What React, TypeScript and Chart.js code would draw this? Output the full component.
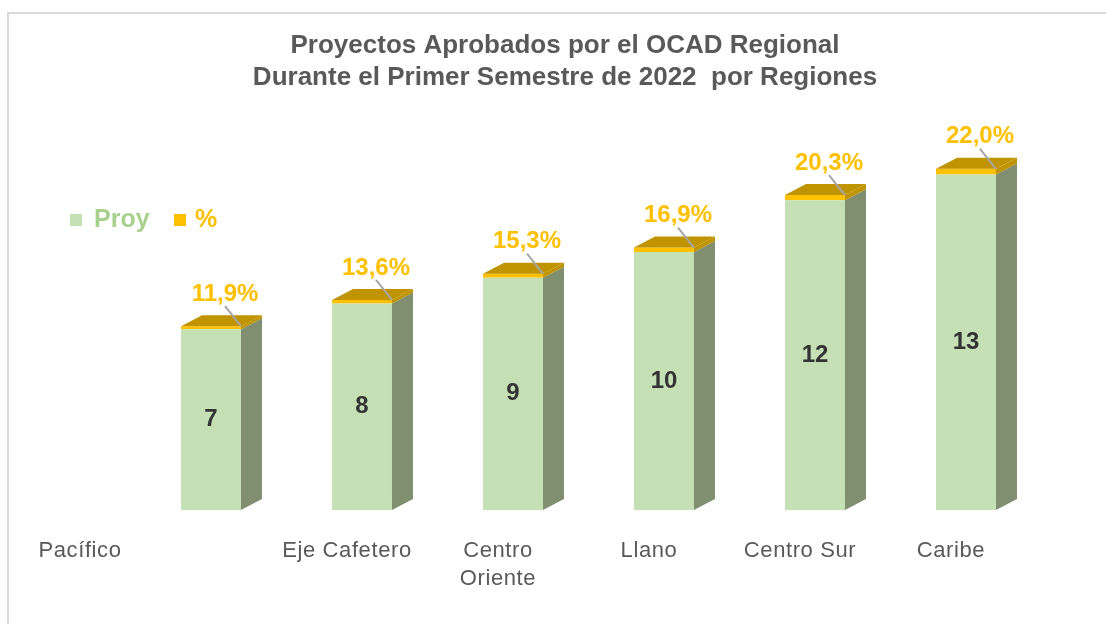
import React, { useEffect, useRef } from "react";
import { Chart, registerables } from "chart.js";

Chart.register(...registerables);

const titleLines = [
  "Proyectos Aprobados por el OCAD Regional",
  "Durante el Primer Semestre de 2022  por Regiones",
];
const categories: string[][] = [
  ["Pacífico"],
  ["Eje Cafetero"],
  ["Centro", "Oriente"],
  ["Llano"],
  ["Centro Sur"],
  ["Caribe"],
];
const proyectos = [7, 8, 9, 10, 12, 13];
const porcentajes = [11.9, 13.6, 15.3, 16.9, 20.3, 22.0];
const seriesNames = ["Proy", "%"];

const FRONT = "#C5E0B4";
const SIDE = "#7F8F6F";
const STRIP = "#FFC000";
const CAP = "#C09300";
const FONT = "'Liberation Sans', Arial, sans-serif";

const fmtPct = (v: number) => v.toFixed(1).replace(".", ",") + "%";

const DX = 21;
const DY = 11;

function poly(ctx: CanvasRenderingContext2D, pts: number[][], color: string) {
  ctx.beginPath();
  ctx.moveTo(pts[0][0], pts[0][1]);
  for (let i = 1; i < pts.length; i++) ctx.lineTo(pts[i][0], pts[i][1]);
  ctx.closePath();
  ctx.fillStyle = color;
  ctx.fill();
}

const threeD = {
  id: "threeD",
  afterDatasetsDraw(chart: any) {
    const ctx: CanvasRenderingContext2D = chart.ctx;
    const m0 = chart.getDatasetMeta(0);
    const m1 = chart.getDatasetMeta(1);
    ctx.save();
    m0.data.forEach((bar: any, i: number) => {
      const strip = m1.data[i];
      const L = bar.x - bar.width / 2;
      const R = bar.x + bar.width / 2;
      const B = bar.base;
      const G = bar.y;
      const T = strip.y;
      poly(ctx, [[R, G], [R + DX, G - DY], [R + DX, B - DY], [R, B]], SIDE);
      poly(ctx, [[R, T], [R + DX, T - DY], [R + DX, G - DY], [R, G]], CAP);
      poly(ctx, [[L, T], [L + DX, T - DY], [R + DX, T - DY], [R, T]], CAP);

      ctx.fillStyle = "#333333";
      ctx.font = `bold 24px ${FONT}`;
      ctx.textAlign = "center";
      ctx.textBaseline = "middle";
      ctx.fillText(String(proyectos[i]), bar.x, (B + G) / 2);

      const lx = bar.x + 14;
      const ly = T - 32;
      ctx.strokeStyle = "#A6A6A6";
      ctx.lineWidth = 2;
      ctx.beginPath();
      ctx.moveTo(lx, ly + 12);
      ctx.lineTo(R, T);
      ctx.stroke();
      ctx.fillStyle = STRIP;
      ctx.font = `bold 24px ${FONT}`;
      ctx.fillText(fmtPct(porcentajes[i]), lx, ly);
    });
    ctx.restore();
  },
  afterDraw(chart: any) {
    const ctx: CanvasRenderingContext2D = chart.ctx;
    const m0 = chart.getDatasetMeta(0);
    ctx.save();
    ctx.fillStyle = "#595959";
    ctx.font = `bold 26px ${FONT}`;
    ctx.textAlign = "center";
    ctx.textBaseline = "middle";
    titleLines.forEach((t, i) => ctx.fillText(t, 565, 46 + i * 32));

    ctx.fillStyle = "#595959";
    ctx.font = `22px ${FONT}`;
    (ctx as any).letterSpacing = "0.6px";
    ctx.textBaseline = "top";
    categories.forEach((lines, i) => {
      const bar = m0.data[i];
      const cx = i === 0 ? bar.x - 131 : bar.x - 15;
      lines.forEach((ln, j) => ctx.fillText(ln, cx, 540 + j * 28));
    });
    (ctx as any).letterSpacing = "0px";

    ctx.textAlign = "left";
    ctx.textBaseline = "middle";
    ctx.font = `bold 25px ${FONT}`;
    ctx.fillStyle = FRONT;
    ctx.fillRect(70, 214, 12, 12);
    ctx.fillStyle = "#A9D18E";
    ctx.fillText(seriesNames[0], 94, 220);
    ctx.fillStyle = STRIP;
    ctx.fillRect(174, 214, 12, 12);
    ctx.fillText(seriesNames[1], 195, 220);
    ctx.restore();
  },
};

export default function App() {
  const ref = useRef<HTMLCanvasElement | null>(null);
  useEffect(() => {
    if (!ref.current) return;
    const chart = new Chart(ref.current, {
      type: "bar",
      data: {
        labels: categories.map((c) => c.join(" ")),
        datasets: [
          {
            label: seriesNames[0],
            data: proyectos,
            backgroundColor: FRONT,
            borderWidth: 0,
            categoryPercentage: 1,
            barPercentage: 0.397,
          },
          {
            label: seriesNames[1],
            data: porcentajes.map((p) => p / 100),
            backgroundColor: STRIP,
            borderWidth: 0,
            categoryPercentage: 1,
            barPercentage: 0.397,
          },
        ],
      },
      options: {
        animation: false,
        responsive: false,
        layout: { padding: { left: 135.5, right: 64.5, top: 97, bottom: 114 } },
        plugins: {
          legend: { display: false },
          title: { display: false },
          tooltip: { enabled: false },
        },
        scales: {
          x: { stacked: true, display: false },
          y: { stacked: true, display: false, min: 0, max: 16 },
        },
      },
      plugins: [threeD],
    });
    return () => chart.destroy();
  }, []);
  return (
    <div style={{ position: "fixed", left: 0, top: 0, width: 1106, height: 624, background: "#fff" }}>
      <canvas ref={ref} width={1106} height={624} style={{ width: 1106, height: 624, display: "block" }} />
      <div
        style={{
          position: "absolute",
          left: 7,
          top: 12,
          right: 0,
          bottom: 0,
          borderTop: "2px solid #D9D9D9",
          borderLeft: "2px solid #D9D9D9",
          pointerEvents: "none",
        }}
      />
    </div>
  );
}
